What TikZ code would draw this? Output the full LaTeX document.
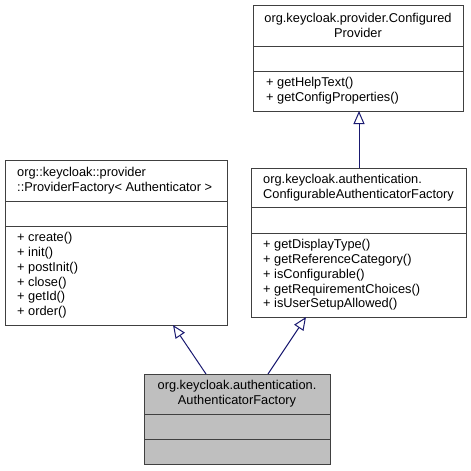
\documentclass[tikz,border=0pt]{standalone}
\usepackage{fontspec}
\setmainfont{Liberation Sans}
\usetikzlibrary{arrows.meta}
\definecolor{edgeblue}{HTML}{191970}
\definecolor{boxline}{HTML}{404040}
\definecolor{grayfill}{HTML}{BFBFBF}
\tikzset{
  umlbox/.style={draw=boxline, line width=1pt, fill=white, rectangle, inner sep=0pt, outer sep=0pt, anchor=north west},
  sepline/.style={draw=boxline, line width=1pt},
  lbl/.style={inner sep=0pt, font=\fontsize{12.8}{14.8}\selectfont},
  inh/.style={draw=edgeblue, line width=1pt, -{Triangle[fill=white, length=13pt, width=11pt]}},
}
\begin{document}
\begin{tikzpicture}[x=1pt,y=-1pt]
\useasboundingbox (0,0) rectangle (471,471);
% boxes
\node[umlbox, minimum width=210pt, minimum height=106pt] (top) at (253,5) {};
\node[umlbox, minimum width=222pt, minimum height=165pt] (left) at (5,160) {};
\node[umlbox, minimum width=215pt, minimum height=149pt] (right) at (251,168) {};
\node[umlbox, fill=grayfill, minimum width=186pt, minimum height=90pt] (bottom) at (144,374) {};
% separators
\draw[sepline] (253,46) -- (463,46);
\draw[sepline] (253,71) -- (463,71);
\draw[sepline] (5,201) -- (227,201);
\draw[sepline] (5,226) -- (227,226);
\draw[sepline] (251,207.5) -- (466,207.5);
\draw[sepline] (251,233.5) -- (466,233.5);
\draw[sepline] (144,414) -- (330,414);
\draw[sepline] (144,439) -- (330,439);
% texts
\node[lbl, align=center] (toptitle) at (358,25.4) {org.keycloak.provider.Configured\\Provider};
\node[lbl, align=left, anchor=west] (topops) at (266,90.8) {+ getHelpText()\\+ getConfigProperties()};
\node[lbl, align=left, anchor=west] (lefttitle) at (17,180.4) {org::keycloak::provider\\::ProviderFactory< Authenticator >};
\node[lbl, align=left, anchor=west] (leftops) at (17,275.4) {+ create()\\+ init()\\+ postInit()\\+ close()\\+ getId()\\+ order()};
\node[lbl, align=left, anchor=west] (righttitle) at (263,187.5) {org.keycloak.authentication.\\ConfigurableAuthenticatorFactory};
\node[lbl, align=left, anchor=west] (rightops) at (263,275) {+ getDisplayType()\\+ getReferenceCategory()\\+ isConfigurable()\\+ getRequirementChoices()\\+ isUserSetupAllowed()};
\node[lbl, align=center] (bottomtitle) at (237,394) {org.keycloak.authentication.\\AuthenticatorFactory};
% inheritance
\draw[inh] ([xshift=-31pt]bottom.north) -- ([xshift=57pt]left.south);
\draw[inh] ([xshift=31pt]bottom.north) -- ([xshift=-52.5pt]right.south);
\draw[inh] ([xshift=0.5pt]right.north) -- ([xshift=1pt]top.south);
\end{tikzpicture}
\end{document}
